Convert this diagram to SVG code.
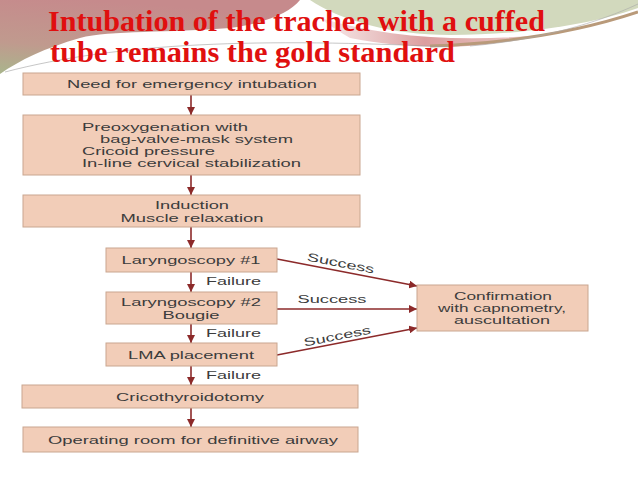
<svg xmlns="http://www.w3.org/2000/svg" width="638" height="479" viewBox="0 0 638 479">
<defs>
<linearGradient id="mauve" x1="0.3" y1="0" x2="0" y2="1">
<stop offset="0" stop-color="#c68a8c"/>
<stop offset="0.6" stop-color="#c09a8e"/>
<stop offset="1" stop-color="#a9b58c"/>
</linearGradient>
<linearGradient id="pink" x1="0" y1="0" x2="1" y2="0">
<stop offset="0" stop-color="#e2b4b4" stop-opacity="0.3"/>
<stop offset="0.5" stop-color="#dc9e9f"/>
<stop offset="1" stop-color="#d8a29c" stop-opacity="0.6"/>
</linearGradient>
<marker id="ah" viewBox="0 0 10 10" refX="10" refY="5" markerWidth="8" markerHeight="8" markerUnits="userSpaceOnUse" orient="auto">
<path d="M0,0 L10,5 L0,10 Z" fill="#8c2a2a"/>
</marker>
<style>
.box{fill:#f2cdb8;stroke:#c9a690;stroke-width:1}
.t{font-family:"Liberation Sans",Arial,sans-serif;font-size:11.5px;fill:#3c3c3c}
.c{text-anchor:middle}
.ln{stroke:#8c2a2a;stroke-width:1.6;fill:none;marker-end:url(#ah)}
.title{font-family:"Liberation Serif","Times New Roman",serif;font-weight:bold;font-size:30px;fill:#e00f0f}
</style>
</defs>
<rect width="638" height="479" fill="#ffffff"/>
<!-- decoration -->
<path d="M0,0 H300 C290,12 270,22 230,28 C170,33 110,30 80,38 C45,48 20,60 0,74 Z" fill="url(#mauve)"/>
<path d="M310,0 H638 V8 C590,25 520,35 450,35 C390,35 340,20 310,0 Z" fill="#d2d9bd"/>
<path d="M320,18 C380,36 450,42 530,36 C480,50 410,50 350,38 C340,32 330,26 320,18 Z" fill="url(#pink)"/>
<path d="M430,46 C520,43 590,28 638,12" stroke="#b99a7a" stroke-width="3" fill="none"/>
<path d="M5,72 C120,42 260,38 450,47" stroke="#a0a0a0" stroke-width="0.6" fill="none"/>
<path d="M470,46 C540,40 600,22 638,4" stroke="#a8a8a8" stroke-width="0.6" fill="none"/>
<text class="title" x="48" y="31" textLength="497" lengthAdjust="spacingAndGlyphs">Intubation of the trachea with a cuffed</text>
<text class="title" x="50" y="62" textLength="405" lengthAdjust="spacingAndGlyphs">tube remains the gold standard</text>
<!-- connectors -->
<g id="connectors">
<line class="ln" x1="191" y1="95" x2="191" y2="115"/>
<line class="ln" x1="191" y1="175" x2="191" y2="195"/>
<line class="ln" x1="191" y1="227" x2="191" y2="248"/>
<line class="ln" x1="191" y1="272" x2="191" y2="292"/>
<line class="ln" x1="191" y1="324" x2="191" y2="343"/>
<line class="ln" x1="191" y1="366" x2="191" y2="385"/>
<line class="ln" x1="191" y1="408" x2="191" y2="427"/>
<line class="ln" x1="277" y1="259" x2="417" y2="286"/>
<line class="ln" x1="277" y1="309" x2="417" y2="309"/>
<line class="ln" x1="277" y1="355" x2="417" y2="328"/>
<text class="t" x="206" y="285" textLength="55" lengthAdjust="spacingAndGlyphs">Failure</text>
<text class="t" x="206" y="337" textLength="55" lengthAdjust="spacingAndGlyphs">Failure</text>
<text class="t" x="206" y="379" textLength="55" lengthAdjust="spacingAndGlyphs">Failure</text>
<text class="t c" transform="translate(340,267) rotate(11)" textLength="68" lengthAdjust="spacingAndGlyphs">Success</text>
<text class="t c" x="332" y="303" textLength="69" lengthAdjust="spacingAndGlyphs">Success</text>
<text class="t c" transform="translate(338,340) rotate(-11)" textLength="68" lengthAdjust="spacingAndGlyphs">Success</text>
</g>
<g id="n1"><rect class="box" x="23" y="73" width="337" height="22"/>
<text class="t c" x="192" y="88" textLength="250" lengthAdjust="spacingAndGlyphs">Need for emergency intubation</text></g>
<g id="n2"><rect class="box" x="23" y="115" width="337" height="60"/>
<text class="t" x="82" y="131" textLength="166" lengthAdjust="spacingAndGlyphs">Preoxygenation with</text>
<text class="t" x="100" y="143" textLength="193" lengthAdjust="spacingAndGlyphs">bag-valve-mask system</text>
<text class="t" x="82" y="155" textLength="133" lengthAdjust="spacingAndGlyphs">Cricoid pressure</text>
<text class="t" x="82" y="167" textLength="219" lengthAdjust="spacingAndGlyphs">In-line cervical stabilization</text></g>
<g id="n3"><rect class="box" x="23" y="195" width="337" height="32"/>
<text class="t c" x="192" y="209" textLength="74" lengthAdjust="spacingAndGlyphs">Induction</text>
<text class="t c" x="192" y="222" textLength="143" lengthAdjust="spacingAndGlyphs">Muscle relaxation</text></g>
<g id="n4"><rect class="box" x="106" y="248" width="171" height="24"/>
<text class="t c" x="191" y="264" textLength="139" lengthAdjust="spacingAndGlyphs">Laryngoscopy #1</text></g>
<g id="n5"><rect class="box" x="106" y="292" width="171" height="32"/>
<text class="t c" x="191" y="306" textLength="140" lengthAdjust="spacingAndGlyphs">Laryngoscopy #2</text>
<text class="t c" x="191" y="319" textLength="57" lengthAdjust="spacingAndGlyphs">Bougie</text></g>
<g id="n6"><rect class="box" x="106" y="343" width="171" height="23"/>
<text class="t c" x="191" y="359" textLength="126" lengthAdjust="spacingAndGlyphs">LMA placement</text></g>
<g id="n7"><rect class="box" x="22" y="385" width="336" height="23"/>
<text class="t c" x="190" y="401" textLength="148" lengthAdjust="spacingAndGlyphs">Cricothyroidotomy</text></g>
<g id="n8"><rect class="box" x="23" y="427" width="335" height="25"/>
<text class="t c" x="193" y="444" textLength="290" lengthAdjust="spacingAndGlyphs">Operating room for definitive airway</text></g>
<g id="n9"><rect class="box" x="417" y="285" width="171" height="46"/>
<text class="t c" x="503" y="300" textLength="98" lengthAdjust="spacingAndGlyphs">Confirmation</text>
<text class="t c" x="502" y="312" textLength="128" lengthAdjust="spacingAndGlyphs">with capnometry,</text>
<text class="t c" x="502" y="324" textLength="96" lengthAdjust="spacingAndGlyphs">auscultation</text></g>
</svg>
